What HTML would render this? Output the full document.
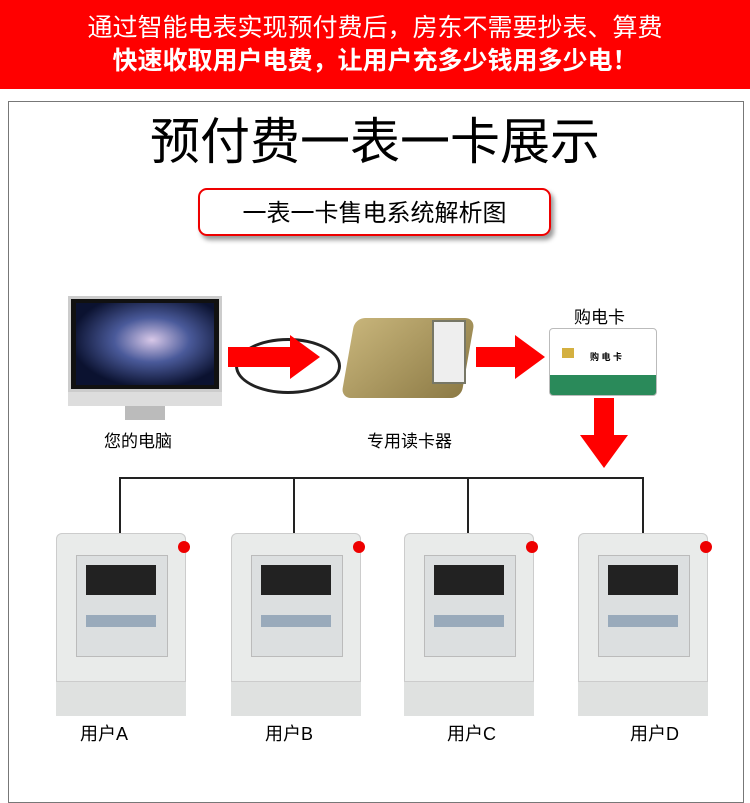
<!DOCTYPE html><html><head><meta charset="utf-8"><style>
body{margin:0;width:750px;height:797px;background:#fff;position:relative;overflow:hidden;font-family:"Liberation Sans","Noto Sans CJK SC",sans-serif}
.a{position:absolute}
.hd{left:0;top:0;width:750px;height:89px;background:#f00;color:#fff;text-align:center;font-size:25px;line-height:33px;padding-top:12px;box-sizing:border-box}
.meter{position:absolute;width:130px;height:182px;top:533px;background:#e9ebea;border-radius:6px;box-shadow:inset 0 0 0 1px #ccc}
.meter .w{position:absolute;left:20px;top:22px;width:90px;height:100px;background:#dcdfe0;border:1px solid #bbb}
.meter .l{position:absolute;left:30px;top:32px;width:70px;height:30px;background:#222}
.meter .b{position:absolute;left:30px;top:82px;width:70px;height:12px;background:#9ab}
.meter .f{position:absolute;left:0;top:148px;width:130px;height:34px;background:#dfe1e0;border-top:1px solid #ccc}
.meter .r{position:absolute;right:-4px;top:8px;width:12px;height:12px;border-radius:50%;background:#e00}
.lbl{position:absolute;top:720px;font-size:18px}
.ln{position:absolute;background:#222}
</style></head><body>
<div class="a hd">通过智能电表实现预付费后，房东不需要抄表、算费<br><b>快速收取用户电费，让用户充多少钱用多少电！</b></div>
<div class="a" style="left:8px;top:101px;width:734px;height:700px;border:1px solid #777"></div>
<div class="a" style="left:0;top:112px;width:750px;text-align:center;font-size:50px;line-height:60px">预付费一表一卡展示</div>
<div class="a" style="left:198px;top:188px;width:353px;height:48px;border:2px solid #e00;border-radius:9px;box-shadow:3px 4px 5px #999;text-align:center;font-size:24px;line-height:48px;box-sizing:border-box">一表一卡售电系统解析图</div>
<!-- monitor -->
<div class="a" style="left:68px;top:296px;width:154px;height:96px;background:#111;border:3px solid #ccc;box-sizing:border-box"></div>
<div class="a" style="left:76px;top:303px;width:138px;height:82px;background:radial-gradient(ellipse at 55% 45%,#d8c8e8,#4a5a9a 35%,#0b1230 75%)"></div>
<div class="a" style="left:68px;top:392px;width:154px;height:14px;background:#ddd"></div>
<div class="a" style="left:125px;top:406px;width:40px;height:14px;background:#bbb"></div>
<div class="a" style="left:104px;top:427px;font-size:17px">您的电脑</div>
<!-- cable -->
<div class="a" style="left:235px;top:338px;width:100px;height:50px;border:3px solid #222;border-radius:50%"></div>
<!-- reader -->
<div class="a" style="left:348px;top:318px;width:120px;height:80px;background:linear-gradient(135deg,#c7b47a,#8c7a45);border-radius:10px;transform:skewX(-10deg)"></div>
<div class="a" style="left:432px;top:320px;width:30px;height:60px;background:#eee;border:2px solid #776"></div>
<div class="a" style="left:367px;top:427px;font-size:17px">专用读卡器</div>
<!-- card -->
<div class="a" style="left:574px;top:303px;font-size:17px">购电卡</div>
<div class="a" style="left:549px;top:328px;width:106px;height:66px;background:linear-gradient(#fff 70%,#2a8a5a 70%);border:1px solid #bbb;border-radius:4px"></div>
<div class="a" style="left:562px;top:348px;width:12px;height:10px;background:#d4b040"></div>
<div class="a" style="left:590px;top:350px;font-size:9px;font-weight:bold">购 电 卡</div>
<!-- arrows -->
<svg class="a" style="left:0;top:0" width="750" height="797">
<polygon points="228,347 290,347 290,335 320,357 290,379 290,367 228,367" fill="#f00"/>
<polygon points="476,347 515,347 515,335 545,357 515,379 515,367 476,367" fill="#f00"/>
<polygon points="594,398 614,398 614,435 628,435 604,468 580,435 594,435" fill="#f00"/>
<g stroke="#222" stroke-width="2" fill="none">
<polyline points="120,533 120,478 643,478 643,533"/>
<line x1="294" y1="478" x2="294" y2="533"/><line x1="468" y1="478" x2="468" y2="533"/>
</g></svg>
<div class="meter" style="left:56px"><div class="w"></div><div class="l"></div><div class="b"></div><div class="f"></div><div class="r"></div></div>
<div class="meter" style="left:231px"><div class="w"></div><div class="l"></div><div class="b"></div><div class="f"></div><div class="r"></div></div>
<div class="meter" style="left:404px"><div class="w"></div><div class="l"></div><div class="b"></div><div class="f"></div><div class="r"></div></div>
<div class="meter" style="left:578px"><div class="w"></div><div class="l"></div><div class="b"></div><div class="f"></div><div class="r"></div></div>
<div class="lbl" style="left:80px">用户A</div>
<div class="lbl" style="left:265px">用户B</div>
<div class="lbl" style="left:447px">用户C</div>
<div class="lbl" style="left:630px">用户D</div>
</body></html>
